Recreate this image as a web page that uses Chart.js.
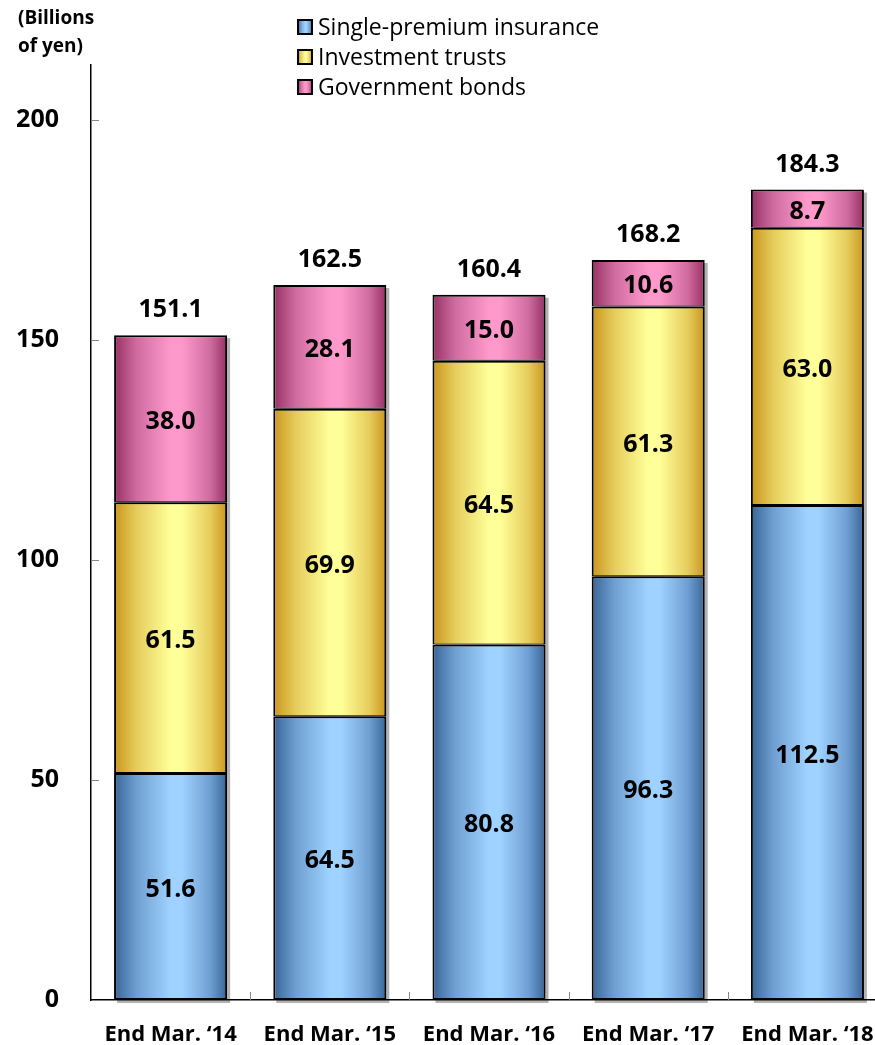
<!DOCTYPE html>
<html>
<head>
<meta charset="utf-8">
<script src="https://cdn.jsdelivr.net/npm/chart.js@4"></script>
<style>
  html, body { margin: 0; padding: 0; background: #fff; overflow: hidden; }
  #wrap { width: 900px; height: 1045px; position: relative; }
</style>
</head>
<body>
<div id="wrap"><canvas id="bar-chart"></canvas></div>
<script>
const categories = ['End Mar. \u201814', 'End Mar. \u201815', 'End Mar. \u201816', 'End Mar. \u201817', 'End Mar. \u201818'];
const insurance = [51.6, 64.5, 80.8, 96.3, 112.5];
const trusts = [61.5, 69.9, 64.5, 61.3, 63.0];
const bonds = [38.0, 28.1, 15.0, 10.6, 8.7];
const totals = [151.1, 162.5, 160.4, 168.2, 184.3];
const yTicks = [0, 50, 100, 150, 200];

const FONT = '"Open Sans", "Noto Sans", sans-serif';
const BAR_PCT = 0.71;

const palette = {
    blue:   { edge: '#386596', mid: '#6f9fd2', light: '#9fd2ff' },
    yellow: { edge: '#c9961c', mid: '#e6cc5c', light: '#ffff99' },
    pink:   { edge: '#973064', mid: '#cf6c9f', light: '#ff99cc' }
};

function makeGradient(ctx, x0, x1, p) {
    const g = ctx.createLinearGradient(x0, 0, x1, 0);
    g.addColorStop(0, p.edge);
    g.addColorStop(0.2, p.mid);
    g.addColorStop(0.5, p.light);
    g.addColorStop(0.6, p.light);
    g.addColorStop(0.85, p.mid);
    g.addColorStop(1, p.edge);
    return g;
}

function barFill(p) {
    return function (context) {
        const chart = context.chart;
        const xs = chart.scales.x;
        if (!chart.chartArea || !xs || context.dataIndex === undefined) return p.light;
        const cx = xs.getPixelForValue(context.dataIndex);
        const half = xs.width / categories.length * BAR_PCT / 2;
        return makeGradient(chart.ctx, cx - half, cx + half, p);
    };
}

// shadow under each stack, value labels, totals, legend, inner tick marks
const decorations = {
    id: 'decorations',
    beforeDatasetsDraw(chart) {
        const ctx = chart.ctx;
        const bottom = chart.getDatasetMeta(0).data;
        const top = chart.getDatasetMeta(2).data;
        ctx.save();
        ctx.fillStyle = 'rgba(0,0,0,0.3)';
        top.forEach((bar, i) => {
            const w = bar.width;
            ctx.fillRect(bar.x - w / 2 + 3, bar.y + 3, w, bottom[i].base - bar.y);
        });
        ctx.restore();
    },
    afterDatasetsDraw(chart) {
        const ctx = chart.ctx;
        ctx.save();
        ctx.fillStyle = '#000';
        ctx.textAlign = 'center';
        ctx.textBaseline = 'middle';
        ctx.font = 'bold 25px ' + FONT;
        chart.data.datasets.forEach((ds, di) => {
            chart.getDatasetMeta(di).data.forEach((bar, i) => {
                const mid = (bar.y + bar.base) / 2;
                ctx.fillText(ds.data[i].toFixed(1), bar.x, mid + 3);
            });
        });
        const top = chart.getDatasetMeta(2).data;
        top.forEach((bar, i) => {
            ctx.fillText(totals[i].toFixed(1), bar.x, bar.y - 25);
        });

        // inner tick marks
        const area = chart.chartArea;
        const ys = chart.scales.y;
        const xs = chart.scales.x;
        ctx.strokeStyle = '#888';
        ctx.lineWidth = 1;
        ctx.beginPath();
        yTicks.slice(1).forEach(v => {
            const y = Math.round(ys.getPixelForValue(v)) + 0.5;
            ctx.moveTo(area.left, y);
            ctx.lineTo(area.left + 8, y);
        });
        for (let i = 1; i < categories.length; i++) {
            const x = Math.round((xs.getPixelForValue(i - 1) + xs.getPixelForValue(i)) / 2) + 0.5;
            ctx.moveTo(x, area.bottom);
            ctx.lineTo(x, area.bottom - 8);
        }
        ctx.stroke();

        // axis title
        ctx.textAlign = 'left';
        ctx.textBaseline = 'middle';
        ctx.font = 'bold 19px ' + FONT;
        ctx.fillText('(Billions', 18, 19);
        ctx.fillText('of yen)', 18, 47);

        // legend
        const items = [['Single-premium insurance', palette.blue], ['Investment trusts', palette.yellow], ['Government bonds', palette.pink]];
        ctx.font = '23px ' + FONT;
        items.forEach((it, k) => {
            const y = 27 + k * 30;
            ctx.fillStyle = makeGradient(ctx, 298, 312, it[1]);
            ctx.fillRect(298, y - 7, 14, 14);
            ctx.strokeStyle = '#000';
            ctx.lineWidth = 2;
            ctx.strokeRect(298, y - 7, 14, 14);
            ctx.fillStyle = '#000';
            ctx.fillText(it[0], 318, y + 1);
        });
        ctx.restore();
    }
};

const barCtx = document.getElementById('bar-chart').getContext('2d');
const fullBorder = 2;
const thinBottom = { top: 2, left: 2, right: 2, bottom: 1 };

const barConfig = {
    type: 'bar',
    data: {
        labels: categories,
        datasets: [
            { label: 'Single-premium insurance', data: insurance, backgroundColor: barFill(palette.blue), borderWidth: fullBorder },
            { label: 'Investment trusts', data: trusts, backgroundColor: barFill(palette.yellow), borderWidth: thinBottom },
            { label: 'Government bonds', data: bonds, backgroundColor: barFill(palette.pink), borderWidth: thinBottom }
        ]
    },
    options: {
        responsive: true,
        maintainAspectRatio: false,
        animation: false,
        layout: { padding: { top: 65, right: 13, left: 0, bottom: 0 } },
        datasets: {
            bar: {
                borderColor: '#000',
                borderSkipped: false,
                categoryPercentage: 1,
                barPercentage: BAR_PCT
            }
        },
        plugins: {
            legend: { display: false },
            tooltip: { enabled: false }
        },
        scales: {
            x: {
                stacked: true,
                grid: { display: false },
                border: { display: true, color: '#000', width: 1.5 },
                ticks: {
                    color: '#000',
                    font: { family: FONT, size: 22, weight: 'bold' },
                    padding: 14,
                    maxRotation: 0,
                    autoSkip: false
                },
                afterFit(scale) { scale.height = 45; }
            },
            y: {
                stacked: true,
                min: 0,
                max: 212.5,
                grid: { display: false },
                border: { display: true, color: '#000', width: 1.5 },
                ticks: {
                    stepSize: 50,
                    color: '#000',
                    padding: 24,
                    font: { family: FONT, size: 25, weight: 'bold' }
                },
                afterBuildTicks(scale) {
                    scale.ticks = yTicks.map(v => ({ value: v }));
                },
                afterFit(scale) { scale.width = 91; }
            }
        }
    },
    plugins: [decorations]
};

const barChart = new Chart(barCtx, barConfig);
</script>
</body>
</html>
